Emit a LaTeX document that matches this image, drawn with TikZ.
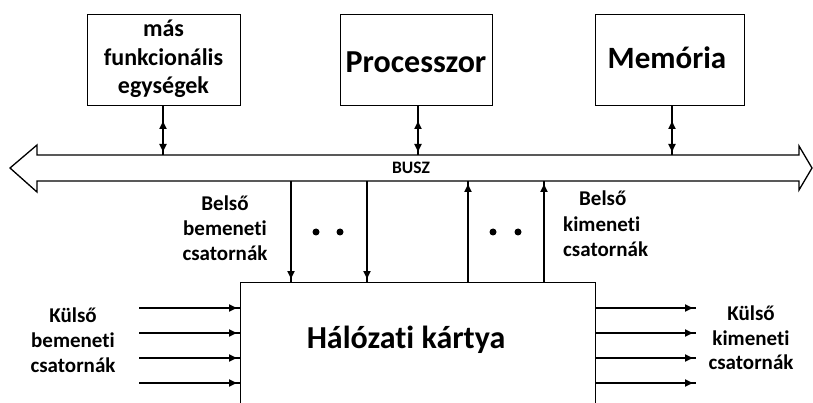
\documentclass[tikz,border=0pt]{standalone}
\usepackage{fontspec}
\setmainfont{Carlito}[Ligatures=NoCommon]
\usetikzlibrary{arrows.meta,decorations.markings}
\tikzset{
  box/.style={draw,line width=1pt,inner sep=0pt,anchor=north west,font=\bfseries},
  wire/.style={line width=2pt},
  tipend/.style={postaction={decorate},decoration={markings,
     mark=at position -3pt with {\arrow{Triangle[length=8pt,width=7pt]}}}},
  tipboth/.style={postaction={decorate},decoration={markings,
     mark=at position 15pt with {\arrowreversed{Triangle[length=8pt,width=7pt]}},
     mark=at position -3pt with {\arrow{Triangle[length=8pt,width=7pt]}}}},
  lbl/.style={font=\bfseries\fontsize{21}{25}\selectfont,align=center,inner sep=0pt},
}
\begin{document}
\begin{tikzpicture}[x=1pt,y=-1pt]
\useasboundingbox (0,0) rectangle (813,403);
% top boxes
\node[box,minimum width=153,minimum height=91] (fu) at (87,14) {};
\node[lbl,font=\bfseries\fontsize{24}{28.5}\selectfont] (fut) at (163.5,59) {más\\funkcionális\\egységek};
\node[box,minimum width=152,minimum height=91] (pr) at (340,14) {};
\node[font=\bfseries\fontsize{32}{36}\selectfont,inner sep=0pt] (prt) at (416,62) {Processzor};
\node[box,minimum width=149,minimum height=91] (me) at (595,14) {};
\node[font=\bfseries\fontsize{31}{36}\selectfont,inner sep=0pt] (met) at (667,58) {Memória};
% bus
\draw[line width=1.3pt,line join=miter] (10,168) -- (37,145) -- (37,155) -- (799,155) -- (799,146)
  -- (812,168) -- (799,190) -- (799,181) -- (37,181) -- (37,192) -- cycle;
\coordinate (bt) at (0,155);
\coordinate (bb) at (0,181);
\node[font=\bfseries\fontsize{17.5}{20}\selectfont,inner sep=0pt] (busz) at (411,168) {BUSZ};
% top connectors
\draw[wire,tipboth] (fu.south -| 163,0) -- (bt -| 163,0);
\draw[wire,tipboth] (pr.south -| 418,0) -- (bt -| 418,0);
\draw[wire,tipboth] (me.south -| 672,0) -- (bt -| 672,0);
% network card
\node[box,minimum width=355,minimum height=140] (nk) at (240,282) {};
\node[font=\bfseries\fontsize{32}{36}\selectfont,inner sep=0pt] (nkt) at (406,340) {Hálózati kártya};
% internal input
\draw[wire,tipend] (bb -| 291,0) -- (nk.north -| 291,0);
\draw[wire,tipend] (bb -| 367,0) -- (nk.north -| 367,0);
\fill (316,232) circle (3.5) (340,232) circle (3.5);
% internal output
\draw[wire,tipend] (nk.north -| 468,0) -- (bb -| 468,0);
\draw[wire,tipend] (nk.north -| 544,0) -- (bb -| 544,0);
\fill (493,232) circle (3.5) (518,232) circle (3.5);
% labels
\node[lbl] (bi) at (225,228) {Belső\\bemeneti\\csatornák};
\node[lbl,font=\bfseries\fontsize{21}{25.5}\selectfont,anchor=west,align=left] (bo) at (563,224) {\hspace*{16pt}Belső\\kimeneti\\csatornák};
\node[lbl] (ki) at (73,340) {Külső\\bemeneti\\csatornák};
\node[lbl,font=\bfseries\fontsize{21}{24.5}\selectfont] (ko) at (751,338) {Külső\\kimeneti\\csatornák};
% external lines
\foreach \y [count=\i] in {308,333,358,383}{
  \coordinate (in\i) at (139,\y);
  \coordinate (out\i) at (696,\y);
  \draw[wire,tipend] (in\i) -- (nk.west |- in\i);
  \draw[wire,tipend] (nk.east |- out\i) -- (out\i);
}
\end{tikzpicture}
\end{document}
